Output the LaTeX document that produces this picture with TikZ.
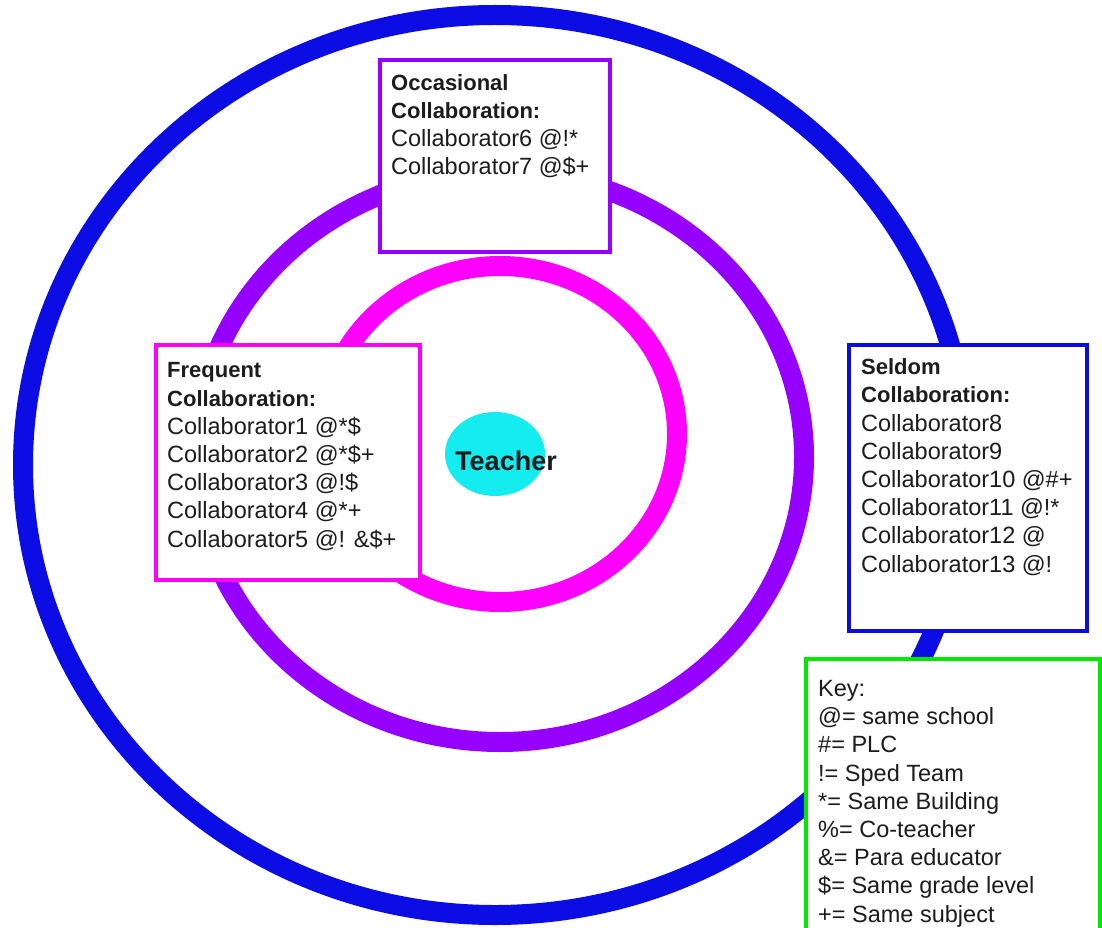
\documentclass[tikz,border=0pt]{standalone}
\usepackage{fontspec}
\setmainfont{Liberation Sans}
\usetikzlibrary{shapes.geometric}
\definecolor{ringblue}{RGB}{12,12,228}
\definecolor{ringpurple}{RGB}{150,0,255}
\definecolor{ringpink}{RGB}{255,0,255}
\definecolor{teachcyan}{RGB}{20,236,240}
\definecolor{keygreen}{RGB}{0,232,0}
\definecolor{boxblue}{RGB}{10,10,225}
\definecolor{textgray}{RGB}{28,28,28}
\begin{document}
\begin{tikzpicture}[x=1pt,y=-1pt,
  ring/.style={ellipse, draw, line width=20pt, inner sep=0pt, outer sep=0pt},
  box/.style={draw, line width=4pt, fill=white, anchor=north west, inner sep=0pt, outer sep=0pt},
  txt/.style={anchor=base west, align=left, inner sep=0pt, font=\fontsize{23.5}{28.2}\selectfont, text=textgray}]
\clip (0,0) rectangle (1102,928);
\fill[white] (0,0) rectangle (1102,928);
% rings
\node[ring, draw=ringblue, minimum width=944pt, minimum height=900pt] (outer) at (495,465) {};
\node[ring, draw=ringpurple, minimum width=608pt, minimum height=570pt] (middle) at (500,457) {};
\node[ring, draw=ringpink, minimum width=354pt, minimum height=336pt] (inner) at (500,434) {};
% teacher
\node[ellipse, fill=teachcyan, minimum width=100pt, minimum height=84pt, inner sep=0pt] (teacher) at (495,454) {};
\node[anchor=base, inner sep=0pt, font=\fontsize{27}{32}\selectfont\bfseries, text=textgray] (teacherlabel) at (506,470) {Teacher};
% boxes
\node[box, draw=ringpurple, minimum width=230pt, minimum height=192pt] (occbox) at (380,60) {};
\node[txt] (occtext) at (391,175) {{\fontsize{22}{28.2}\selectfont\bfseries Occasional}\\{\fontsize{22}{28.2}\selectfont\bfseries Collaboration:}\\Collaborator6 @!*\\Collaborator7 @\$+};
\node[box, draw=ringpink, minimum width=264pt, minimum height=235pt] (freqbox) at (156,345) {};
\node[txt] (freqtext) at (167,547) {{\fontsize{22}{28.2}\selectfont\bfseries Frequent}\\{\fontsize{22}{28.2}\selectfont\bfseries Collaboration:}\\Collaborator1 @*\$\\Collaborator2 @*\$+\\Collaborator3 @!\$\\Collaborator4 @*+\\Collaborator5 @! \&\$+};
\node[box, draw=boxblue, minimum width=238pt, minimum height=286pt] (seldbox) at (849,345) {};
\node[txt] (seldtext) at (861,572) {{\fontsize{22}{28.2}\selectfont\bfseries Seldom}\\{\fontsize{22}{28.2}\selectfont\bfseries Collaboration:}\\Collaborator8\\Collaborator9\\Collaborator10 @\#+\\Collaborator11 @!*\\Collaborator12 @\\Collaborator13 @!};
\node[box, draw=keygreen, minimum width=294pt, minimum height=300pt] (keybox) at (806,659) {};
\node[txt] (keytext) at (818,922) {Key:\\@= same school\\\#= PLC\\!= Sped Team\\*= Same Building\\\%= Co-teacher\\\&= Para educator\\\$= Same grade level\\+= Same subject};
\end{tikzpicture}
\end{document}
